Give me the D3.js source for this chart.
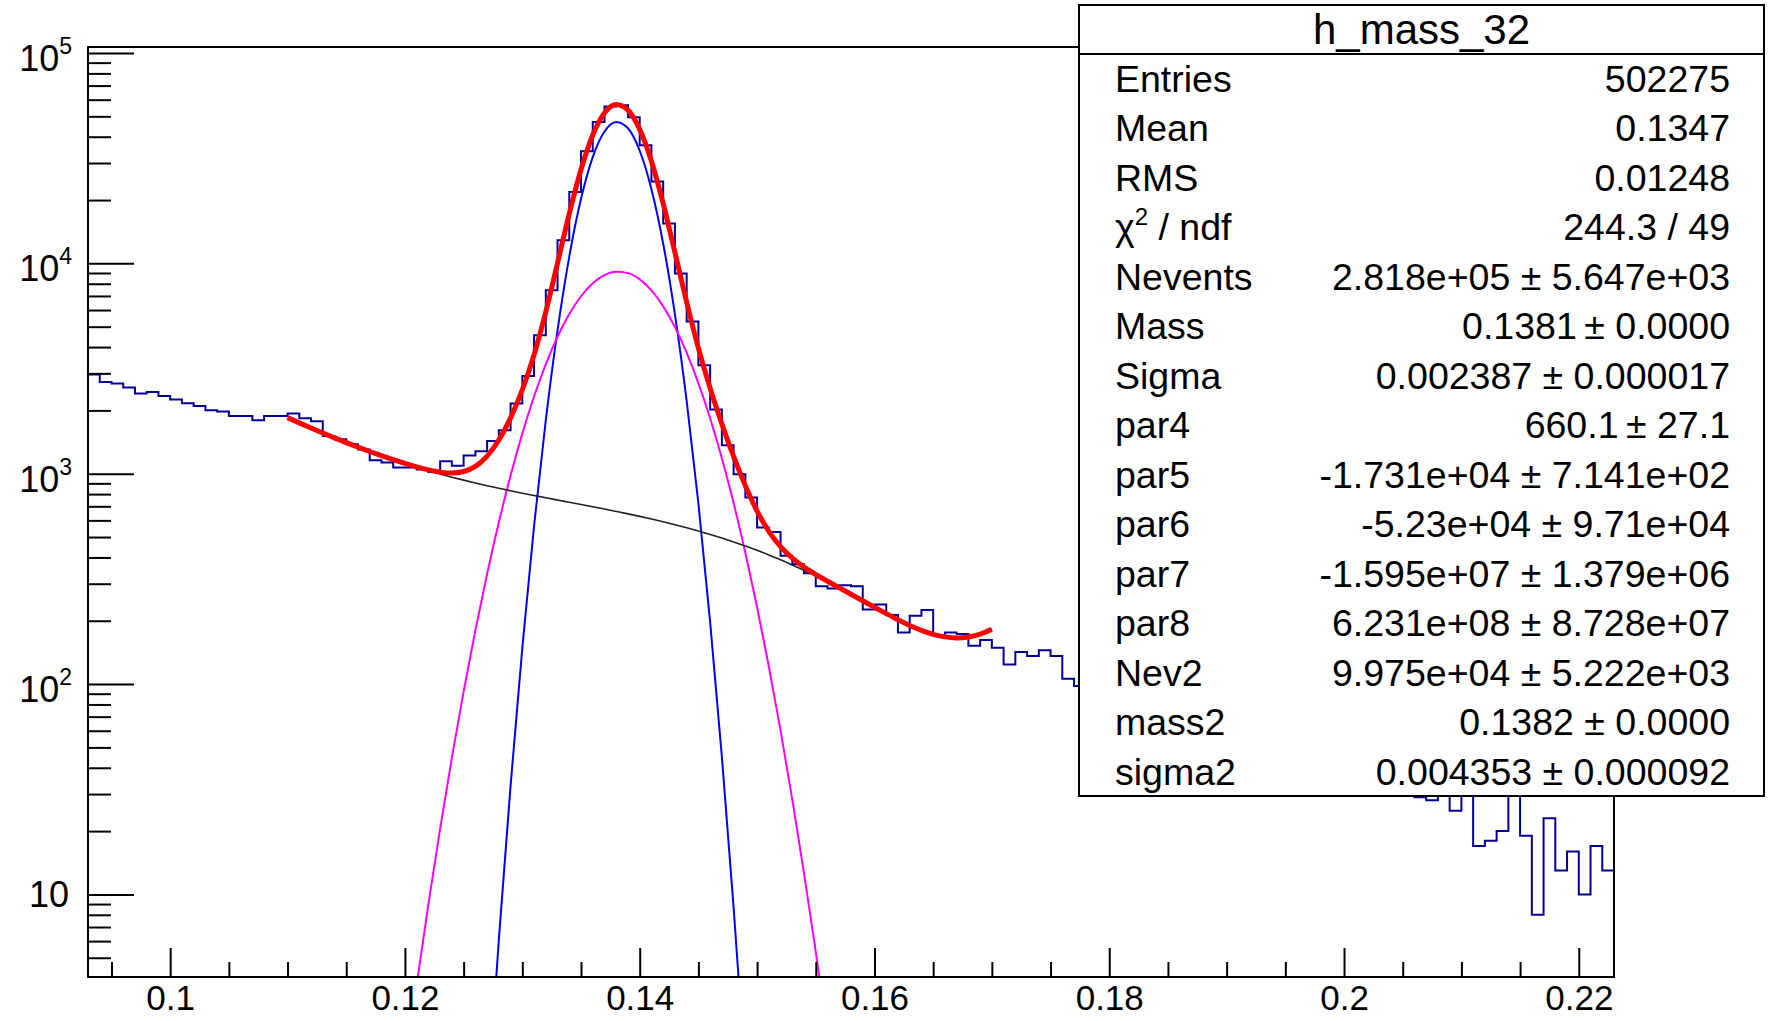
<!DOCTYPE html>
<html>
<head>
<meta charset="utf-8">
<script src="https://cdn.jsdelivr.net/npm/d3@7"></script>
<style>
  body { margin: 0; background: #fff; }
  svg text { font-family: "Liberation Sans", Arial, Helvetica, sans-serif; fill: #000; }
</style>
</head>
<body>
<svg id="chart" width="1768" height="1021"></svg>
<script>
// h_mass_32 : 130 bins, 0.001 wide, starting at 0.093
var binStart = 0.093;
var binWidth = 0.001;
var counts = [
  2962, 2731, 2684, 2568, 2405, 2448, 2343, 2253, 2163, 2101,
  2004, 1975, 1882, 1882, 1796, 1882, 1882, 1932, 1836, 1776,
  1512, 1459, 1381, 1303, 1159, 1130, 1070, 1070, 1047, 1020,
  1147, 1090, 1220, 1279, 1430, 1609, 2156, 2916, 4553, 7450,
  12880, 21850, 34110, 46990, 55700, 56420, 49500, 36420, 24500, 15460,
  8944, 5290, 3279, 2019, 1366, 995, 771, 555, 529, 407,
  371, 336, 292, 285, 295, 292, 226, 239, 213, 176,
  211, 225, 170, 176, 173, 152, 162, 149, 124, 142,
  136, 145, 136, 106, 98, 96, 92, 88, 87, 81,
  79, 74, 73, 68, 66, 62, 60, 57, 55, 53,
  49, 48, 45, 44, 41, 40, 38, 36, 35, 33,
  32, 31, 30, 29, 28, 31, 25, 30, 17, 18,
  20, 30, 19, 8, 23, 13, 16, 10, 17, 13
];

// fit curves, sampled every 0.001
var sampleStep = 0.001;
var fitStart = 0.110;
var totalFit = [
  1847.6, 1744.3, 1649.0, 1561.2, 1480.4, 1406.1, 1337.9, 1275.5, 1218.3, 1166.2,
  1119.2, 1077.5, 1042.7, 1017.5, 1007.8, 1024.2, 1083.6, 1211.9, 1445.8, 1842.2,
  2507.2, 3679.9, 5882.1, 10033.6, 17244.5, 27956.8, 40726.4, 51834.1, 56849.8, 53499.5,
  43328.9, 30559.1, 19233, 11276.5, 6536.6, 3954.2, 2547.3, 1724.4, 1207.8, 875.8,
  664.4, 532.3, 449.9, 396.7, 360.0, 331.8, 308.1, 286.9, 267.2, 248.9,
  231.7, 216.1, 202.1, 189.9, 180.0, 172.4, 167.6, 165.8, 167.4, 172.8, 182.1
];
var background = [
  1847.6, 1744.3, 1649.0, 1561.2, 1480.4, 1406.1, 1337.9, 1275.4, 1218.1, 1165.7,
  1117.7, 1073.8, 1033.7, 996.9, 963.1, 932.1, 903.5, 877.1, 852.5, 829.6,
  808.0, 787.7, 768.2, 749.6, 731.5, 713.8, 696.4, 679.1, 661.8, 644.5,
  626.9, 609.1, 591.0, 572.5, 553.6, 534.3, 514.7, 494.6, 474.1, 453.4,
  432.3, 411.1, 389.8, 368.5, 347.4, 326.5, 306.0, 286.1, 266.9, 248.8,
  231.7, 216.1, 202.1, 189.9, 180.0, 172.4, 167.6, 165.8, 167.4, 172.8, 182.1
];
// narrow gaussian (blue)
var gaus1Start = 0.126;
var gaus1 = [
  0.124, 0.949, 6.10, 32.9, 148.7, 564.5, 1798.5, 4805, 10773, 20266,
  31984, 42354, 47056, 43866, 34309, 22516, 12397, 5727, 2220, 721.9,
  197.0, 45.1, 8.66, 1.40, 0.189
];
// wide gaussian (magenta)
var gaus2Start = 0.118;
var gaus2 = [
  0.193, 0.545, 1.462, 3.720, 8.983, 20.57, 44.68, 92.10, 180.0, 333.8,
  587.2, 979.7, 1550.5, 2327.7, 3315.4, 4479, 5740, 6977, 8046, 8801,
  9132, 8989, 8393, 7434, 6245, 4977, 3763, 2698, 1835.6, 1184.7,
  725.0, 421.0, 231.9, 121.2, 60.05, 28.24, 12.59, 5.327, 2.138, 0.814, 0.294
];

var xTicks = [0.1, 0.12, 0.14, 0.16, 0.18, 0.2, 0.22];
var xTickLabels = ["0.1", "0.12", "0.14", "0.16", "0.18", "0.2", "0.22"];
var yTicks = [10, 100, 1000, 10000, 100000];
var yTickPowers = [1, 2, 3, 4, 5];

var statTitle = "h_mass_32";
var statNames = ["Entries", "Mean", "RMS", "chi2", "Nevents", "Mass", "Sigma", "par4",
  "par5", "par6", "par7", "par8", "Nev2", "mass2", "sigma2"];
var statValues = ["502275", "0.1347", "0.01248", "244.3 / 49",
  "2.818e+05 \u00b1 5.647e+03", "0.1381\u2009\u00b1 0.0000", "0.002387 \u00b1 0.000017",
  "660.1\u2009\u00b1 27.1", "-1.731e+04 \u00b1 7.141e+02", "-5.23e+04 \u00b1 9.71e+04",
  "-1.595e+07 \u00b1 1.379e+06", "6.231e+08 \u00b1 8.728e+07", "9.975e+04 \u00b1 5.222e+03",
  "0.1382 \u00b1 0.0000", "0.004353 \u00b1 0.000092"];

// ---- layout
var frame = {left: 88, right: 1614, top: 47, bottom: 977};
var svg = d3.select("#chart");

var x = d3.scaleLinear().domain([0.093, 0.223]).range([frame.left, frame.right]);
var y = d3.scaleLog().domain([4.05, 1.068e5]).range([frame.bottom, frame.top]);

svg.append("defs").append("clipPath").attr("id", "frameClip")
  .append("rect")
  .attr("x", frame.left).attr("y", frame.top)
  .attr("width", frame.right - frame.left).attr("height", frame.bottom - frame.top);

var plot = svg.append("g").attr("clip-path", "url(#frameClip)");

// histogram as a step outline
var histPts = counts.map(function (c, i) { return [binStart + i * binWidth, c]; });
histPts.push([binStart + counts.length * binWidth, counts[counts.length - 1]]);
var stepLine = d3.line()
  .x(function (d) { return x(d[0]); })
  .y(function (d) { return y(d[1]); })
  .curve(d3.curveStepAfter);
plot.append("path").datum(histPts)
  .attr("d", stepLine)
  .attr("fill", "none").attr("stroke", "#000099").attr("stroke-width", 2);

function curvePts(start, vals) {
  return vals.map(function (v, i) { return [start + i * sampleStep, v]; });
}
var smooth = d3.line()
  .x(function (d) { return x(d[0]); })
  .y(function (d) { return y(d[1]); })
  .curve(d3.curveMonotoneX);

plot.append("path").datum(curvePts(gaus1Start, gaus1))
  .attr("d", smooth).attr("fill", "none").attr("stroke", "#0000ff").attr("stroke-width", 2);
plot.append("path").datum(curvePts(gaus2Start, gaus2))
  .attr("d", smooth).attr("fill", "none").attr("stroke", "#ff00ff").attr("stroke-width", 2);
plot.append("path").datum(curvePts(fitStart, background))
  .attr("d", smooth).attr("fill", "none").attr("stroke", "#222").attr("stroke-width", 1.6);
plot.append("path").datum(curvePts(fitStart, totalFit))
  .attr("d", smooth).attr("fill", "none").attr("stroke", "#ff0000").attr("stroke-width", 5)
  .attr("stroke-linejoin", "round");

// ---- axes (ROOT style: ticks inside the frame)
var xMajorLen = 29, xMinorLen = 15;
var yMajorLen = 46, yMinorLen = 23;

var xMinor = d3.range(19, 45).map(function (k) { return k * 5 / 1000; })
  .filter(function (v) { return Math.round(v * 1000) % 20 !== 0; });

var xAxisG = svg.append("g").attr("transform", "translate(0," + frame.bottom + ")");
xAxisG.call(d3.axisBottom(x).tickValues(xMinor).tickSize(-xMinorLen).tickFormat(""));
xAxisG.append("g").call(d3.axisBottom(x).tickValues(xTicks).tickSize(-xMajorLen)
  .tickPadding(8).tickFormat(function (d, i) { return xTickLabels[i]; }));
xAxisG.selectAll(".domain").remove();
xAxisG.selectAll("line").attr("stroke", "#000").attr("stroke-width", 2);
xAxisG.selectAll("text").attr("font-size", 35)
  .attr("font-family", "'Liberation Sans', Arial, sans-serif").attr("fill", "#000");

var yMinor = [];
[1, 10, 100, 1000, 10000].forEach(function (dec) {
  for (var k = 2; k <= 9; k++) {
    var v = k * dec;
    if (v >= 4.05 && v <= 1.068e5) yMinor.push(v);
  }
});
var yAxisG = svg.append("g").attr("transform", "translate(" + frame.left + ",0)");
yAxisG.call(d3.axisLeft(y).tickValues(yMinor).tickSize(-yMinorLen).tickFormat(""));
yAxisG.append("g").call(d3.axisLeft(y).tickValues(yTicks).tickSize(-yMajorLen).tickFormat(""));
yAxisG.selectAll(".domain").remove();
yAxisG.selectAll("line").attr("stroke", "#000").attr("stroke-width", 2);

// y labels: 10, 10^2 ... 10^5
yTicks.forEach(function (t, i) {
  var p = yTickPowers[i];
  if (p === 1) {
    svg.append("text").attr("x", 69).attr("y", y(t) + 12.5)
      .attr("text-anchor", "end").attr("font-size", 36).text("10");
  } else {
    var tx = svg.append("text").attr("x", 72).attr("y", y(t) + 18)
      .attr("text-anchor", "end").attr("font-size", 36);
    tx.append("tspan").text("10");
    tx.append("tspan").attr("font-size", 23).attr("dy", -17).text(p);
  }
});

// frame
svg.append("rect")
  .attr("x", frame.left).attr("y", frame.top)
  .attr("width", frame.right - frame.left).attr("height", frame.bottom - frame.top)
  .attr("fill", "none").attr("stroke", "#000").attr("stroke-width", 2);

// ---- stats box
var box = {left: 1079, top: 5, right: 1764, bottom: 796, titleLine: 54};
var stats = svg.append("g");
stats.append("rect")
  .attr("x", box.left).attr("y", box.top)
  .attr("width", box.right - box.left).attr("height", box.bottom - box.top)
  .attr("fill", "#fff").attr("stroke", "#000").attr("stroke-width", 2);
stats.append("line")
  .attr("x1", box.left).attr("x2", box.right)
  .attr("y1", box.titleLine).attr("y2", box.titleLine)
  .attr("stroke", "#000").attr("stroke-width", 2);
stats.append("text")
  .attr("x", (box.left + box.right) / 2).attr("y", 44)
  .attr("text-anchor", "middle").attr("font-size", 42).text(statTitle);

var rowStep = (box.bottom - box.titleLine) / statNames.length;
statNames.forEach(function (name, i) {
  var by = box.titleLine + rowStep * i + 38;
  var lab = stats.append("text").attr("x", 1115).attr("y", by).attr("font-size", 37.5);
  if (name === "chi2") {
    lab.append("tspan").text("\u03c7");
    lab.append("tspan").attr("font-size", 24).attr("dy", -15).text("2");
    lab.append("tspan").attr("dy", 15).text(" / ndf");
  } else {
    lab.text(name);
  }
  stats.append("text").attr("x", 1730).attr("y", by)
    .attr("text-anchor", "end").attr("font-size", 37.5).text(statValues[i]);
});
</script>
</body>
</html>
